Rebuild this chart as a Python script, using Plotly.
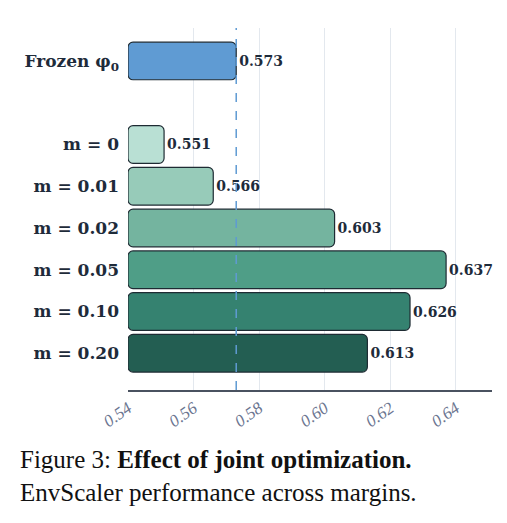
import plotly.graph_objects as go

# values
labels = ["Frozen φ<sub>0</sub>", "m = 0", "m = 0.01", "m = 0.02", "m = 0.05", "m = 0.10", "m = 0.20"]
scores = [0.573, 0.551, 0.566, 0.603, 0.637, 0.626, 0.613]
slots = [0, 2, 3, 4, 5, 6, 7]
colors = ["#5f9bd3", "#b9e0d4", "#97cbb9", "#74b49f", "#4f9e87", "#358270", "#235e52"]
x_ticks = [0.54, 0.56, 0.58, 0.60, 0.62, 0.64]
base_x = 0.54
frozen_ref = 0.573

fig = go.Figure()
fig.add_trace(go.Bar(
    y=slots, x=[s - base_x for s in scores], base=base_x, orientation="h",
    width=0.9, marker=dict(color=colors, line=dict(color="#1e2b33", width=1.2), cornerradius=5),
    text=[f"<b>{s:.3f}</b>" for s in scores], textposition="outside", cliponaxis=False,
    constraintext="none", textangle=0,
    textfont=dict(family="DejaVu Serif", size=14, color="#1e2b3a"),
    hoverinfo="skip",
))

fig.add_vline(x=frozen_ref, line=dict(color="#5f9bd3", width=1.5, dash="dash"))

fig.update_xaxes(range=[0.54, 0.651], tickvals=x_ticks, ticktext=[f"<i>{t:.2f}</i>" for t in x_ticks],
                 tickangle=-35, showgrid=True, gridcolor="#e3e8ee", zeroline=False,
                 showline=True, linecolor="#4a5260", linewidth=1.5, ticks="", automargin=False,
                 tickfont=dict(family="Liberation Serif", size=17, color="#6b7590"))
fig.update_yaxes(range=[7.88, -0.79], tickvals=slots, ticktext=[f"<b>{l}</b>" for l in labels],
                 showgrid=False, zeroline=False, ticks="", ticklabelstandoff=8, automargin=False,
                 tickfont=dict(family="DejaVu Serif", size=17, color="#1e2b3a"))

fig.add_annotation(x=0.0, y=-0.15, xref="paper", yref="paper", xanchor="left", yanchor="top",
                   xshift=-110, showarrow=False, align="left",
                   text="Figure 3: <b>Effect of joint optimization.</b><br>EnvScaler performance across margins.",
                   font=dict(family="Liberation Serif", size=25, color="#111"))

fig.update_layout(width=507, height=523, margin=dict(l=120, r=23, t=20, b=141),
                  plot_bgcolor="white", paper_bgcolor="white", showlegend=False)

fig.write_html("out.html")
